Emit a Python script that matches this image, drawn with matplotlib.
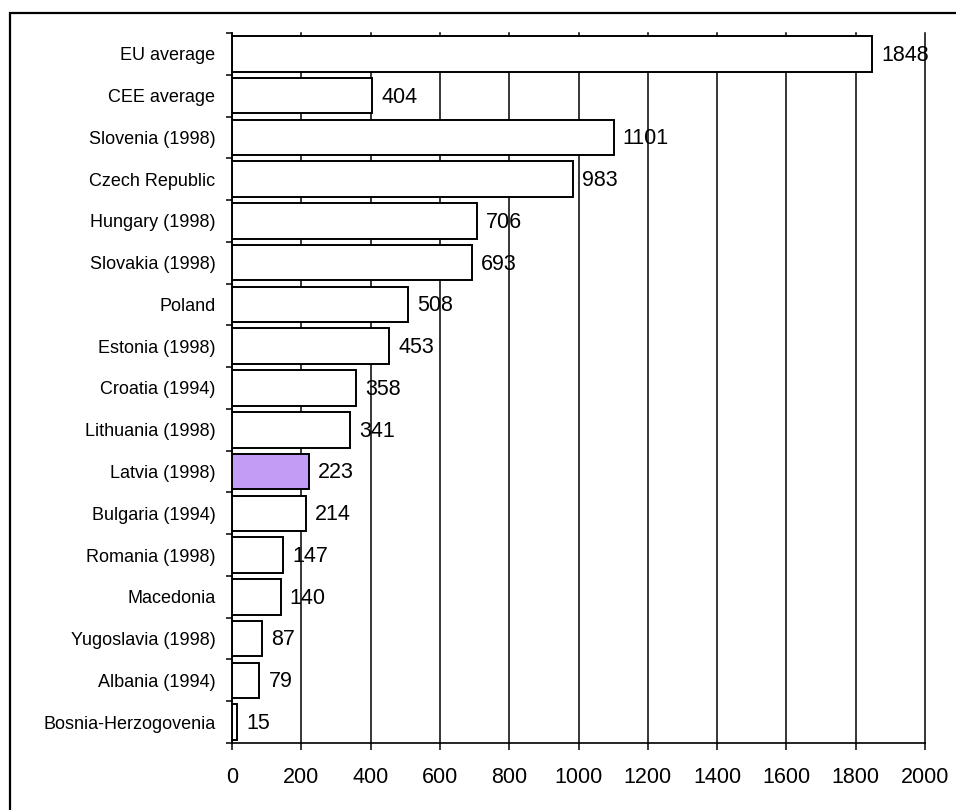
import matplotlib.pyplot as plt
from matplotlib.patches import Rectangle
from matplotlib.ticker import MultipleLocator

plt.rcParams['font.family'] = ['Liberation Sans', 'DejaVu Sans']

# Данные: значения по странам, сверху вниз
countries = ['EU average', 'CEE average', 'Slovenia (1998)', 'Czech Republic',
             'Hungary (1998)', 'Slovakia (1998)', 'Poland', 'Estonia (1998)',
             'Croatia (1994)', 'Lithuania (1998)', 'Latvia (1998)', 'Bulgaria (1994)',
             'Romania (1998)', 'Macedonia', 'Yugoslavia (1998)', 'Albania (1994)',
             'Bosnia-Herzogovenia']
values = [1848, 404, 1101, 983, 706, 693, 508, 453, 358, 341, 223, 214,
          147, 140, 87, 79, 15]
highlight = 'Latvia (1998)'

fig = plt.figure(figsize=(9.56, 8.1), dpi=100)
ax = fig.add_axes([0.2427, 0.0827, 0.7249, 0.8766])

colors = ['#C39CF5' if c == highlight else 'white' for c in countries]
pos = list(range(len(countries)))
ax.barh(pos, values, height=0.85, color=colors, edgecolor='black',
        linewidth=1.4, zorder=3)

for y, v in zip(pos, values):
    ax.annotate(str(v), (v, y), xytext=(6.5, -1), textcoords='offset points',
                va='center', ha='left', fontsize=15.5, zorder=4)

ax.set_xlim(0, 2000)
ax.set_ylim(len(countries) - 0.5, -0.5)
ax.xaxis.set_major_locator(MultipleLocator(200))
ax.grid(axis='x', color='black', linewidth=1.1, zorder=0)
for line in ax.get_xgridlines():
    line.set_clip_on(False)

ax.set_yticks(pos)
ax.set_yticklabels(countries, fontsize=13)
ax.set_yticks([p - 0.5 for p in pos] + [len(countries) - 0.5], minor=True)
ax.tick_params(axis='y', which='major', length=0, pad=12)
ax.tick_params(axis='y', which='minor', length=4, width=1.1, direction='out')
ax.tick_params(axis='x', labelsize=15.5, length=5, width=1.1, pad=12)

for s in ['top', 'right']:
    ax.spines[s].set_visible(False)
for s in ['left', 'bottom']:
    ax.spines[s].set_linewidth(1.2)
    ax.spines[s].set_zorder(5)

# рамка вокруг всего рисунка
fig.patches.append(Rectangle((10 / 956, -0.05), 1.0, 1 - 13 / 810 + 0.05,
                             transform=fig.transFigure, fill=False,
                             edgecolor='black', linewidth=1.6))

plt.savefig('out.png', dpi=100)
